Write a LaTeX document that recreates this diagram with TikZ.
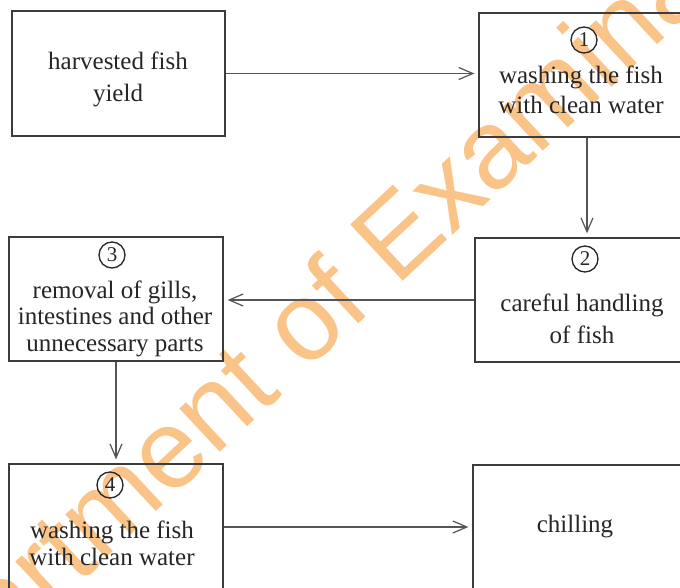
\documentclass[tikz,border=0pt]{standalone}
\usepackage{fontspec}
\setmainfont{Liberation Serif}
\newfontfamily\wmfont{Liberation Sans}
\usetikzlibrary{arrows.meta}
\definecolor{boxline}{HTML}{3C3C3C}
\definecolor{arrowline}{HTML}{555555}
\definecolor{txt}{HTML}{262626}
\definecolor{wm}{HTML}{F9B060}
\tikzset{
  stepbox/.style={draw=boxline, line width=1.3pt, rectangle, inner sep=0pt},
  lbl/.style={text=txt, align=center, inner sep=0pt, font=\fontsize{25}{#1}\selectfont},
  numc/.style={draw=txt, circle, line width=1.3pt, minimum size=26pt, inner sep=0pt, text=txt, font=\fontsize{21}{21}\selectfont},
  flow/.style={draw=arrowline, line width=1.2pt, -{Straight Barb[length=14pt,width=12pt,line width=1.2pt]}, shorten >=4pt},
}
\begin{document}
\begin{tikzpicture}[x=1pt,y=-1pt]
\useasboundingbox (0,0) rectangle (680,588);
\fill[white] (0,0) rectangle (680,588);
\begin{scope}
\clip (0,0) rectangle (680,588);
% watermark
\node[text=wm, opacity=0.75, rotate=43, font=\wmfont\fontsize{112}{112}\selectfont, inner sep=0pt] (wmark) at (352,290) {Department of Examinations};
% boxes
\node[stepbox, minimum width=213pt, minimum height=125pt] (b1) at (118.5,73.5) {};
\node[stepbox, minimum width=216pt, minimum height=124pt] (b2) at (587,75) {};
\node[stepbox, minimum width=224pt, minimum height=124pt] (b3) at (587,300) {};
\node[stepbox, minimum width=214pt, minimum height=124pt] (b4) at (116,299) {};
\node[stepbox, minimum width=214pt, minimum height=126pt] (b5) at (116,527) {};
\node[stepbox, minimum width=217pt, minimum height=125pt] (b6) at (581.5,527.5) {};
% texts
\node[lbl=32] (t1) at (118,79) {harvested fish\\yield};
\node[numc] (n1) at (584,40) {1};
\node[lbl=30] (t2) at (581,90) {washing the fish\\with clean water};
\node[numc] (n2) at (585,259) {2};
\node[lbl=32] (t3) at (582,319) {careful handling\\of fish};
\node[numc] (n3) at (112,255) {3};
\node[lbl=26.5] (t4) at (115,318.5) {removal of gills,\\intestines and other\\unnecessary parts};
\node[numc] (n4) at (110,485) {4};
\node[lbl=27] (t5) at (112,543.5) {washing the fish\\with clean water};
\node[lbl=30] (t6) at (575,527) {chilling};
% connectors
\draw[flow] (b1.east) -- (b1.east -| b2.west);
\draw[flow] (b2.south) -- (b2.south |- b3.north);
\draw[flow] (b3.west) -- (b3.west -| b4.east);
\draw[flow] (b4.south) -- (b4.south |- b5.north);
\draw[flow] (b5.east) -- (b5.east -| b6.west);
\end{scope}
\end{tikzpicture}
\end{document}
